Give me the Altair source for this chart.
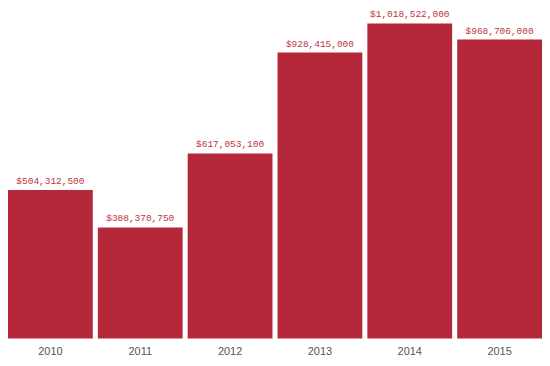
import altair as alt
import pandas as pd

years = ["2010", "2011", "2012", "2013", "2014", "2015"]
amounts = [504312500, 388370750, 617053100, 928415000, 1018522000, 968706000]
labels = ["$504,312,500", "$388,370,750", "$617,053,100", "$928,415,000", "$1,018,522,000", "$968,706,000"]

df = pd.DataFrame({"year": years, "amount": amounts, "label": labels})

x = alt.X("year:N", sort=years,
          scale=alt.Scale(paddingInner=0.056, paddingOuter=0),
          axis=alt.Axis(title=None, labelAngle=0, domain=False, ticks=False,
                        labelPadding=7, labelFontSize=11, labelColor="#555555",
                        labelFont="Liberation Sans"))
y = alt.Y("amount:Q",
          scale=alt.Scale(domain=[45.6e6, 1058e6], zero=False, nice=False),
          axis=None)

bars = alt.Chart(df).mark_bar(color="#B5283A", clip=True).encode(x=x, y=y)
text = alt.Chart(df).mark_text(
    baseline="bottom", dy=-4, font="Liberation Mono", fontSize=9.5, color="#BE3441"
).encode(x=x, y=y, text="label:N")

chart = (bars + text).properties(width=536, height=329, padding=0).configure_view(stroke=None)
chart.save("out.html", embed_options={"renderer": "svg", "actions": False})
